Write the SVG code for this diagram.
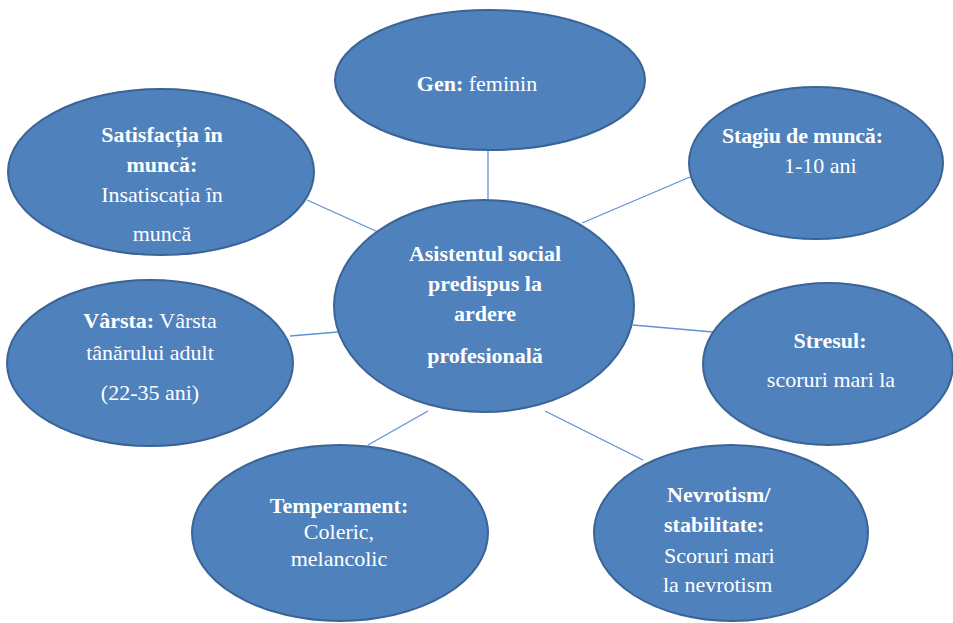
<svg xmlns="http://www.w3.org/2000/svg" width="953" height="623" viewBox="0 0 953 623">
<style>
.node ellipse{fill:#4f81bd;stroke:#3b6496;stroke-width:2}
text{font-family:"Liberation Serif","Times New Roman",serif;font-size:22px;fill:#ffffff}
.b{font-weight:bold}
.c{text-anchor:middle}
.links line{stroke:#5f93d3;stroke-width:1.3}
</style>
<rect width="953" height="623" fill="#ffffff"/>
<g class="links">
<line x1="488" y1="150" x2="488" y2="201"/>
<line x1="307" y1="200" x2="378" y2="232"/>
<line x1="690" y1="177" x2="582" y2="223"/>
<line x1="290" y1="336" x2="338" y2="332"/>
<line x1="633" y1="325" x2="713" y2="332"/>
<line x1="368" y1="445" x2="428" y2="411"/>
<line x1="545" y1="411" x2="643" y2="460"/>
</g>
<g id="gen" class="node">
<ellipse cx="490" cy="80" rx="155" ry="70"/>
<text x="477" y="91" class="c"><tspan class="b">Gen:</tspan> feminin</text>
</g>
<g id="satisfactia" class="node">
<ellipse cx="161" cy="172" rx="153" ry="83"/>
<text x="162" y="142" class="c b">Satisfacția în</text>
<text x="162" y="172" class="c b">muncă:</text>
<text x="162" y="202" class="c">Insatiscația în</text>
<text x="162" y="241" class="c">muncă</text>
</g>
<g id="stagiu" class="node">
<ellipse cx="816" cy="163" rx="127" ry="76"/>
<text x="722" y="143" class="b" textLength="161" lengthAdjust="spacing">Stagiu de muncă:</text>
<text x="784" y="173">1-10 ani</text>
</g>
<g id="central" class="node">
<ellipse cx="484" cy="306" rx="150" ry="106"/>
<text x="485" y="261" class="c b">Asistentul social</text>
<text x="485" y="291" class="c b">predispus la</text>
<text x="485" y="321" class="c b">ardere</text>
<text x="485" y="363" class="c b">profesională</text>
</g>
<g id="varsta" class="node">
<ellipse cx="150" cy="363" rx="143" ry="83"/>
<text x="150" y="328" class="c"><tspan class="b">Vârsta:</tspan> Vârsta</text>
<text x="150" y="360" class="c">tânărului adult</text>
<text x="150" y="400" class="c">(22-35 ani)</text>
</g>
<g id="stresul" class="node">
<ellipse cx="828" cy="364" rx="125" ry="81"/>
<text x="830" y="348" class="c b">Stresul:</text>
<text x="831" y="387" class="c">scoruri mari la</text>
</g>
<g id="temperament" class="node">
<ellipse cx="340" cy="533" rx="148" ry="88"/>
<text x="339" y="513" class="c b">Temperament:</text>
<text x="339" y="539" class="c">Coleric,</text>
<text x="339" y="566" class="c">melancolic</text>
</g>
<g id="nevrotism" class="node">
<ellipse cx="731" cy="533" rx="137" ry="88"/>
<text x="667" y="502" class="b">Nevrotism/</text>
<text x="664" y="532" class="b">stabilitate:</text>
<text x="664" y="563">Scoruri mari</text>
<text x="663" y="592">la nevrotism</text>
</g>
</svg>
